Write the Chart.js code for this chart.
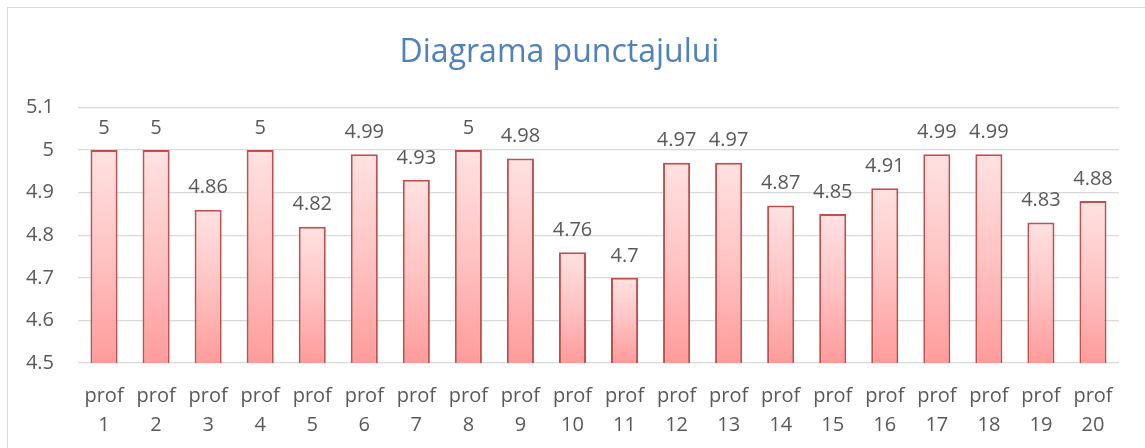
<!DOCTYPE html>
<html>
<head>
<meta charset="utf-8">
<script src="https://cdn.jsdelivr.net/npm/chart.js@4.4.0/dist/chart.umd.min.js"></script>
<style>
  html, body { margin: 0; padding: 0; background: #fff; overflow: hidden; }
  #wrap { position: absolute; left: 0; top: 0; width: 1145px; height: 448px; }
  #frame { position: absolute; left: 7px; top: 7px; width: 1200px; height: 500px; border: 1px solid #D9D9D9; box-sizing: border-box; pointer-events: none; }
</style>
</head>
<body>
<div id="wrap"><canvas id="c" width="1145" height="448"></canvas></div>
<div id="frame"></div>
<script>
const categories = Array.from({length: 20}, (_, i) => ["prof", String(i + 1)]);
const scores = [5, 5, 4.86, 5, 4.82, 4.99, 4.93, 5, 4.98, 4.76, 4.7, 4.97, 4.97, 4.87, 4.85, 4.91, 4.99, 4.99, 4.83, 4.88];
const yMin = 4.5, yMax = 5.1, yStep = 0.1;
const titleText = "Diagrama punctajului";

const FONT = "'Open Sans', 'Noto Sans', sans-serif";
const GRAY = "#595959";

const dataLabels = {
  id: 'dataLabels',
  afterDatasetsDraw(chart) {
    const ctx = chart.ctx;
    const meta = chart.getDatasetMeta(0);
    ctx.save();
    ctx.font = "20px " + FONT;
    ctx.fillStyle = GRAY;
    ctx.textAlign = 'center';
    ctx.textBaseline = 'middle';
    meta.data.forEach((bar, i) => {
      ctx.fillText(String(scores[i]), bar.x, bar.y - 22);
    });
    ctx.restore();
  }
};

new Chart(document.getElementById('c'), {
  type: 'bar',
  data: {
    labels: categories,
    datasets: [{
      data: scores,
      backgroundColor: (ctx) => {
        const chart = ctx.chart;
        if (!chart.chartArea || ctx.type !== 'data') return '#FFC4C4';
        const ys = chart.scales.y;
        const top = ys.getPixelForValue(ctx.raw);
        const bottom = ys.getPixelForValue(yMin);
        const g = chart.ctx.createLinearGradient(0, top, 0, bottom);
        g.addColorStop(0, '#FFE2E2');
        g.addColorStop(0.5, '#FFC3C3');
        g.addColorStop(1, '#FF9B9B');
        return g;
      },
      borderColor: '#C0504D',
      borderWidth: 2,
      borderSkipped: false,
      categoryPercentage: 1,
      barPercentage: 0.52
    }]
  },
  options: {
    responsive: false,
    animation: false,
    layout: { padding: { left: 0, right: 26, top: 0, bottom: 0 } },
    plugins: {
      legend: { display: false },
      tooltip: { enabled: false },
      title: {
        display: true,
        text: titleText,
        color: '#4F81BD',
        font: { family: FONT, size: 32, weight: 'normal' },
        padding: { top: 34, bottom: 35 }
      }
    },
    scales: {
      x: {
        afterFit: (scale) => { scale.height = 85; },
        grid: { display: false, drawTicks: false },
        border: { display: false },
        ticks: {
          color: GRAY,
          font: { family: FONT, size: 20, lineHeight: 1.48 },
          maxRotation: 0,
          autoSkip: false,
          padding: 18
        }
      },
      y: {
        min: yMin,
        max: yMax,
        afterFit: (scale) => { scale.width = 78; },
        grid: { color: '#D9D9D9', lineWidth: 1.2, drawTicks: false },
        border: { display: false },
        ticks: {
          stepSize: yStep,
          color: GRAY,
          font: { family: FONT, size: 20 },
          padding: 24,
          callback: (v) => String(Math.round(v * 10) / 10)
        }
      }
    }
  },
  plugins: [dataLabels]
});
</script>
</body>
</html>
